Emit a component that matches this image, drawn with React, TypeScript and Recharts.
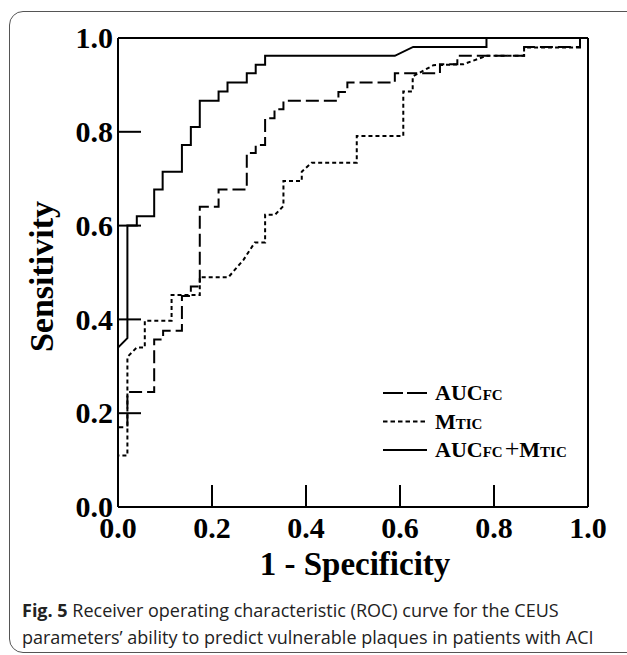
import { LineChart, Line, XAxis, YAxis, ReferenceLine } from "recharts";

const xTicks = [0, 0.2, 0.4, 0.6, 0.8, 1.0];
const yTicks = [0, 0.2, 0.4, 0.6, 0.8, 1.0];

// AUC FC (dashed)
const aucFcFpr = [0, 0, 0.02, 0.02, 0.077, 0.077, 0.096, 0.096, 0.136, 0.136, 0.155, 0.155, 0.174, 0.174, 0.214, 0.214, 0.274, 0.274, 0.293, 0.293, 0.313, 0.313, 0.333, 0.333, 0.352, 0.352, 0.469, 0.469, 0.488, 0.488, 0.589, 0.589, 0.685, 0.685, 0.722, 0.722, 0.864, 0.864, 0.983, 0.983, 1];
const aucFcTpr = [0, 0.17, 0.17, 0.245, 0.245, 0.357, 0.357, 0.376, 0.376, 0.45, 0.45, 0.47, 0.47, 0.64, 0.64, 0.677, 0.677, 0.755, 0.755, 0.772, 0.772, 0.829, 0.829, 0.848, 0.848, 0.866, 0.866, 0.885, 0.885, 0.905, 0.905, 0.925, 0.925, 0.944, 0.944, 0.962, 0.962, 0.981, 0.981, 1, 1];

// M TIC (dotted)
const mticFpr = [0, 0, 0.02, 0.02, 0.04, 0.057, 0.057, 0.114, 0.114, 0.174, 0.174, 0.235, 0.267, 0.291, 0.313, 0.313, 0.334, 0.352, 0.352, 0.391, 0.391, 0.412, 0.508, 0.508, 0.607, 0.607, 0.627, 0.627, 0.671, 0.735, 0.784, 0.864, 0.864, 0.983, 0.983, 1];
const mticTpr = [0, 0.11, 0.11, 0.32, 0.34, 0.34, 0.397, 0.397, 0.452, 0.452, 0.49, 0.49, 0.527, 0.564, 0.564, 0.623, 0.623, 0.642, 0.695, 0.695, 0.715, 0.734, 0.734, 0.791, 0.791, 0.886, 0.886, 0.918, 0.942, 0.944, 0.962, 0.962, 0.98, 0.98, 1, 1];

// AUC FC + M TIC (solid)
const combFpr = [0, 0, 0.02, 0.02, 0.04, 0.04, 0.077, 0.077, 0.095, 0.095, 0.136, 0.136, 0.155, 0.155, 0.174, 0.174, 0.214, 0.214, 0.233, 0.233, 0.274, 0.274, 0.293, 0.293, 0.313, 0.313, 0.589, 0.628, 0.784, 0.784, 1];
const combTpr = [0, 0.34, 0.36, 0.6, 0.6, 0.62, 0.62, 0.677, 0.677, 0.715, 0.715, 0.772, 0.772, 0.81, 0.81, 0.866, 0.866, 0.886, 0.886, 0.905, 0.905, 0.925, 0.925, 0.943, 0.943, 0.962, 0.962, 0.981, 0.981, 1, 1];

const toPoints = (fpr: number[], tpr: number[]) => fpr.map((x, i) => ({ x, y: tpr[i] }));

const serif = "'Liberation Serif', 'Times New Roman', serif";

const series = [
  { key: "aucfc", parts: [["AUC", "b"], ["FC", "s"]], dash: "13 5", legendDash: "20 4", data: toPoints(aucFcFpr, aucFcTpr) },
  { key: "mtic", parts: [["M", "b"], ["TIC", "s"]], dash: "4 3", legendDash: "4.5 3", data: toPoints(mticFpr, mticTpr) },
  { key: "comb", parts: [["AUC", "b"], ["FC", "s"], ["+", "p"], ["M", "b"], ["TIC", "s"]], dash: undefined, legendDash: undefined, data: toPoints(combFpr, combTpr) },
];

const XTick = (props: any) => {
  const { x, y, payload } = props;
  return (
    <g>
      <line x1={x} x2={x} y1={y} y2={y - 22} stroke="#000" strokeWidth={2} />
      <text x={x} y={y + 31} textAnchor="middle" fontFamily={serif} fontWeight="bold" fontSize={30} fill="#000">
        {payload.value.toFixed(1)}
      </text>
    </g>
  );
};

const YTick = (props: any) => {
  const { x, y, payload } = props;
  return (
    <g>
      <line x1={x} x2={x + 23} y1={y} y2={y} stroke="#000" strokeWidth={2} />
      <text x={x - 5} y={y} dy="0.34em" textAnchor="end" fontFamily={serif} fontWeight="bold" fontSize={30} fill="#000">
        {payload.value.toFixed(1)}
      </text>
    </g>
  );
};

const partStyle = (kind: string) => {
  if (kind === "s") return { fontSize: 15, fontWeight: "bold" as const };
  if (kind === "p") return { fontSize: 26, fontWeight: "normal" as const };
  return { fontSize: 22, fontWeight: "bold" as const };
};

const LegendBox = () => (
  <svg width={240} height={90} style={{ display: "block" }}>
    {series.map((s, i) => {
      const by = 22 + i * 28.5;
      return (
        <g key={s.key}>
          <line x1={2} x2={46} y1={by - 7} y2={by - 7} stroke="#000" strokeWidth={2} strokeDasharray={s.legendDash} />
          <text x={54} y={by} fontFamily={serif} fill="#000">
            {s.parts.map(([t, k], j) => (
              <tspan key={j} {...partStyle(k)} dx={k === "p" ? 2 : 0}>{t}</tspan>
            ))}
          </text>
        </g>
      );
    })}
  </svg>
);

export default function App() {
  return (
    <div style={{ position: "absolute", left: 0, top: 0, width: 627, height: 655, overflow: "hidden", background: "#fff" }}>
      <div style={{ position: "absolute", left: 9, top: 11, width: 660, height: 640, border: "1.5px solid #555", borderRadius: 14 }} />
      <div style={{ position: "absolute", left: 0, top: 0 }}>
        <LineChart width={627} height={600} margin={{ top: 38, right: 39, left: 58, bottom: 33 }}>
          <XAxis
            type="number"
            dataKey="x"
            domain={[0, 1]}
            ticks={xTicks}
            interval={0}
            height={60}
            tickSize={0}
            tickMargin={0}
            tick={<XTick />}
            axisLine={{ stroke: "#000", strokeWidth: 2 }}
            tickLine={false}
            label={{
              content: (p: any) => (
                <text x={p.viewBox.x + p.viewBox.width / 2 + 2} y={p.viewBox.y + 68} textAnchor="middle" fontFamily={serif} fontWeight="bold" fontSize={33} fill="#000">
                  1 - Specificity
                </text>
              ),
            }}
          />
          <YAxis
            type="number"
            dataKey="y"
            domain={[0, 1]}
            ticks={yTicks}
            interval={0}
            width={60}
            tickSize={0}
            tickMargin={0}
            tick={<YTick />}
            axisLine={{ stroke: "#000", strokeWidth: 2 }}
            tickLine={false}
            label={{
              content: (p: any) => {
                const cx = p.viewBox.x - 5;
                const cy = p.viewBox.y + p.viewBox.height / 2 + 4;
                return (
                  <text x={cx} y={cy} transform={`rotate(-90, ${cx}, ${cy})`} textAnchor="middle" fontFamily={serif} fontWeight="bold" fontSize={34} fill="#000">
                    Sensitivity
                  </text>
                );
              },
            }}
          />
          <ReferenceLine y={1} stroke="#000" strokeWidth={2} />
          <ReferenceLine x={1} stroke="#000" strokeWidth={2} />
          {series.map((s) => (
            <Line
              key={s.key}
              data={s.data}
              dataKey="y"
              type="linear"
              stroke="#000"
              strokeWidth={2}
              strokeDasharray={s.dash}
              dot={false}
              activeDot={false}
              isAnimationActive={false}
            />
          ))}
        </LineChart>
      </div>
      <div style={{ position: "absolute", left: 381, top: 378 }}>
        <LegendBox />
      </div>
      <div style={{ position: "absolute", left: 22, top: 597, width: 600, fontFamily: "'Open Sans', sans-serif", fontSize: 18, lineHeight: "27px", color: "#222", whiteSpace: "nowrap" }}>
        <b>Fig. 5</b> Receiver operating characteristic (ROC) curve for the CEUS
        <br />
        parameters’ ability to predict vulnerable plaques in patients with ACI
      </div>
    </div>
  );
}
